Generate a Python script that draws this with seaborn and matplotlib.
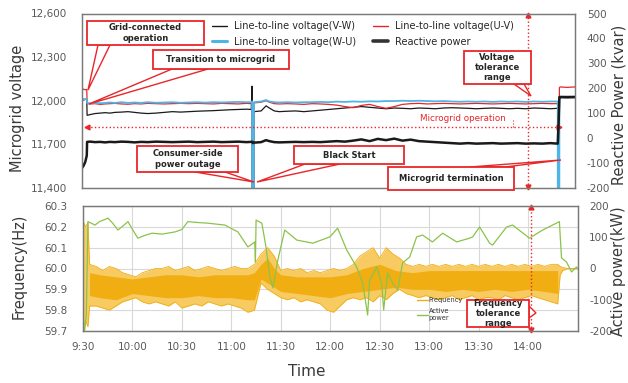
import matplotlib
matplotlib.use("Agg")
import matplotlib.pyplot as plt
import matplotlib.patches as mpatches
from matplotlib.lines import Line2D
from matplotlib.ticker import FuncFormatter
import seaborn as sns
import pandas as pd

sns.set_theme(style="white")
plt.rcParams["font.family"] = ["DejaVu Sans"]
plt.rcParams["axes.unicode_minus"] = False

# ----------------------------------------------------------------------
# Data (time in minutes after 9:30)
# ----------------------------------------------------------------------
t_top = [0, 1, 2, 2.9, 3.1, 5, 8, 11, 14, 17,
         20, 24, 28, 32, 36, 40, 45, 50, 55, 60,
         65, 70, 75, 80, 85, 90, 95, 100, 103, 103.5,
         104, 104.6, 109, 112, 114, 117, 120, 125, 130, 135,
         140, 145, 150, 155, 160, 165, 170, 175, 180, 185,
         190, 195, 200, 205, 210, 215, 220, 225, 230, 235,
         240, 245, 250, 255, 260, 265, 270, 275, 280, 285,
         289.5, 290, 290.5, 291, 295, 300]

volt_vw = [12010, 12005, 12010, 12008, 11900, 11905, 11912, 11915, 11918, 11915,
           11920, 11922, 11925, 11920, 11915, 11912, 11915, 11920, 11925, 11922,
           11925, 11928, 11930, 11932, 11935, 11938, 11940, 11942, 11940, 12100,
           0, 11925, 11930, 11965, 11950, 11930, 11925, 11928, 11930, 11925,
           11930, 11935, 11940, 11945, 11950, 11955, 11960, 11955, 11950, 11945,
           11950, 11948, 11945, 11950, 11948, 11945, 11950, 11952, 11950, 11948,
           11945, 11948, 11950, 11948, 11945, 11948, 11945, 11950, 11948, 11945,
           11948, 0, 12020, 12022, 12020, 12022]

volt_uv = [12075, 12080, 12075, 12078, 11980, 11978, 11980, 11975, 11978, 11980,
           11982, 11978, 11976, 11980, 11978, 11982, 11980, 11978, 11980, 11982,
           11980, 11982, 11980, 11978, 11982, 11980, 11978, 11982, 11980, 11990,
           0, 11985, 11990, 12000, 11990, 11980, 11978, 11980, 11978, 11975,
           11980, 11978, 11975, 11970, 11960, 11952, 11968, 11975, 11960, 11948,
           11960, 11975, 11980, 11982, 11978, 11980, 11982, 11980, 11978, 11980,
           11982, 11980, 11978, 11980, 11982, 11980, 11978, 11980, 11982, 11980,
           11980, 0, 12090, 12095, 12092, 12095]

volt_wu = [12015, 12010, 12012, 12010, 11985, 11982, 11985, 11983, 11985, 11988,
           11985, 11990, 11985, 11988, 11985, 11990, 11986, 11988, 11990, 11986,
           11988, 11990, 11987, 11990, 11988, 11990, 11992, 11990, 11990, 11995,
           0, 11990, 11995, 12005, 11995, 11990, 11988, 11990, 11988, 11990,
           11990, 11992, 11990, 11994, 11992, 11995, 11993, 11996, 11995, 11998,
           11998, 12000, 11998, 12000, 11998, 11996, 11998, 11995, 11993, 11995,
           11993, 11995, 11992, 11995, 11993, 11995, 11992, 11995, 11993, 11995,
           11995, 0, 12025, 12028, 12026, 12028]

reactive = [-120, -110, -95, -70, -15, -14, -16, -15, -17, -15,
            -16, -14, -15, -17, -15, -16, -14, -15, -16, -15,
            -14, -16, -15, -14, -16, -15, -14, -16, -15, -14,
            -20, -18, -16, -8, -12, -16, -17, -16, -15, -16,
            -15, -16, -14, -12, -14, -10, -5, -12, -3, -8,
            -2, -10, -6, -12, -14, -16, -18, -20, -22, -20,
            -22, -21, -20, -22, -21, -20, -22, -21, -22, -20,
            -22, 55, 165, 165, 165, 165]

# frequency band (outer envelope of the noisy trace)
freq_t = [0, 1.5, 3, 4,
          8, 12, 16, 20, 24, 28, 32, 36, 40, 44,
          48, 52, 56, 60, 64, 68, 72, 76, 80, 84,
          88, 92, 96, 100, 104, 108, 112, 116, 120, 124,
          128, 132, 136, 140, 144, 148, 152, 156, 160, 164,
          168, 172, 176, 180, 184, 188, 192, 196, 200, 204,
          208, 212, 216, 220, 224, 228, 232, 236, 240, 244,
          248, 252, 256, 260, 264, 268, 272, 276, 280, 284,
          288, 289.5, 291, 294, 300]
freq_hi = [60.23, 60.20, 60.22, 60.02,
           60.01, 59.99, 60.01, 60.00, 59.98, 59.97, 59.96, 59.98, 59.99, 60.00,
           60.00, 60.01, 59.99, 60.00, 60.01, 59.99, 60.00, 60.01, 60.00, 59.99,
           60.00, 60.01, 60.00, 60.00, 60.02, 60.07, 60.10, 60.06, 59.99, 60.00,
           59.99, 60.00, 59.98, 59.99, 59.98, 59.99, 60.00, 59.99, 60.00, 60.02,
           60.06, 60.08, 60.10, 60.05, 60.10, 60.07, 60.05, 60.02, 60.01, 60.02,
           60.01, 60.02, 60.01, 60.02, 60.01, 60.02, 60.01, 60.02, 60.01, 60.02,
           60.01, 60.02, 60.01, 60.02, 60.01, 60.02, 60.01, 60.02, 60.01, 60.02,
           60.02, 60.01, 60.005, 60.0, 60.0]
freq_lo = [59.70, 59.75, 59.72, 59.82,
           59.82, 59.81, 59.80, 59.82, 59.84, 59.85, 59.86, 59.84, 59.83, 59.84,
           59.83, 59.82, 59.84, 59.81, 59.82, 59.83, 59.82, 59.84, 59.83, 59.82,
           59.83, 59.82, 59.81, 59.79, 59.80, 59.93, 59.90, 59.88, 59.86, 59.85,
           59.86, 59.84, 59.85, 59.84, 59.83, 59.80, 59.79, 59.82, 59.85, 59.86,
           59.85, 59.86, 59.84, 59.87, 59.85, 59.88, 59.90, 59.88, 59.87, 59.86,
           59.87, 59.86, 59.85, 59.86, 59.87, 59.85, 59.86, 59.87, 59.85, 59.86,
           59.86, 59.85, 59.87, 59.86, 59.85, 59.86, 59.87, 59.86, 59.85, 59.84,
           59.83, 59.97, 59.99, 60.0, 60.0]

# dense core of the frequency trace
core_t = [4, 10, 20, 30, 40, 50, 60, 70, 80, 90,
          100, 104, 108, 112, 116, 120, 130, 140, 150, 160,
          170, 180, 190, 200, 210, 220, 230, 240, 250, 260,
          270, 280, 288]
core_hi = [59.98, 59.97, 59.96, 59.95, 59.96, 59.97, 59.97, 59.96, 59.97, 59.97,
           59.97, 59.98, 60.02, 60.05, 60.00, 59.97, 59.96, 59.96, 59.96, 59.97,
           60.00, 60.02, 59.99, 59.98, 59.99, 59.99, 59.99, 59.99, 59.99, 59.99,
           59.99, 59.99, 59.99]
core_lo = [59.87, 59.86, 59.85, 59.88, 59.87, 59.86, 59.86, 59.87, 59.86, 59.86,
           59.85, 59.85, 59.95, 59.93, 59.91, 59.89, 59.88, 59.87, 59.86, 59.88,
           59.89, 59.90, 59.91, 59.90, 59.90, 59.89, 59.90, 59.89, 59.90, 59.89,
           59.90, 59.89, 59.88]

act_t = [0, 1, 2, 3, 7.3, 10, 15.2, 18, 21.2, 24,
         27.3, 30, 33.3, 37, 41.8, 48, 55.8, 60, 63.6, 70,
         75.8, 86, 94, 100, 103, 104.2, 104.6, 105, 108.5, 111,
         113.3, 115.2, 118.2, 122.4, 129.7, 139.4, 149.7, 154.5, 160, 166,
         169.7, 172.7, 173.9, 178.2, 181.2, 182.4, 184.8, 187.9, 190.9, 193.9,
         198.2, 202.4, 206, 212, 218.2, 226.7, 234.5, 236.4, 240.6, 246.7,
         248.5, 257, 260.6, 270.9, 278.8, 289, 290.3, 293.3, 296.4, 299.4, 300]
act_p = [-180, -200, -150, 150, 139, 150, 161, 145, 123, 135,
         150, 125, 97, 105, 113, 110, 117, 125, 150, 147,
         145, 139, 117, 69, 80, 85, 21, 155, 145, 69,
         -27, -62, 27, 123, 91, 81, 101, 129, 59, 5,
         -47, -149, -37, 5, -47, -133, -14, -47, -69, 18,
         37, 101, 107, 85, 113, 85, 97, 101, 133, 81,
         75, 133, 139, 97, 123, 150, 34, 21, -11, 5, 0]

time_ticks = [0, 30, 60, 90, 120, 150, 180, 210, 240, 270]
time_labels = ["9:30", "10:00", "10:30", "11:00", "11:30",
               "12:00", "12:30", "13:00", "13:30", "14:00"]

# event times (minutes after 9:30)
T_TRANSITION = 3
T_TERMINATION = 290
T_TOLERANCE = 271.5

# ----------------------------------------------------------------------
# Styling
# ----------------------------------------------------------------------
RED = "#E8262A"
BLUE = "#4DB6E6"
ORANGE = "#F0AE12"
ORANGE_LIGHT = "#F7CB62"
GREEN = "#8BC34A"
TICK_C = "#595959"
LABEL_C = "#3a3a3a"
SPINE_C = "#7a7a7a"

W, H = 628, 383


def px(x, y):
    return (x / W, 1 - y / H)


fig = plt.figure(figsize=(W / 100, H / 100), dpi=100)
ax_v = fig.add_axes([82 / W, 1 - 188 / H, 493 / W, 174.5 / H])
ax_q = ax_v.twinx()
ax_f = fig.add_axes([83 / W, 1 - 331 / H, 494.5 / W, 125 / H])
ax_p = ax_f.twinx()

top = pd.DataFrame({"t": t_top, "vw": volt_vw, "uv": volt_uv,
                    "wu": volt_wu, "q": reactive})
sns.lineplot(data=top, x="t", y="vw", ax=ax_v, color="#1a1a1a", lw=0.9,
             estimator=None, sort=False)
sns.lineplot(data=top, x="t", y="uv", ax=ax_v, color=RED, lw=0.9,
             estimator=None, sort=False)
sns.lineplot(data=top, x="t", y="wu", ax=ax_v, color=BLUE, lw=1.3,
             estimator=None, sort=False)
sns.lineplot(data=top, x="t", y="q", ax=ax_q, color="#1a1a1a", lw=1.8,
             estimator=None, sort=False)

# frequency band + active power
ax_f.fill_between(freq_t, freq_lo, freq_hi, color=ORANGE_LIGHT, lw=0)
ax_f.fill_between(core_t, core_lo, core_hi, color=ORANGE, lw=0)
sns.lineplot(x=freq_t, y=freq_hi, ax=ax_f, color=ORANGE, lw=0.6,
             estimator=None, sort=False)
sns.lineplot(x=freq_t, y=freq_lo, ax=ax_f, color=ORANGE, lw=0.6,
             estimator=None, sort=False)
sns.lineplot(x=act_t, y=act_p, ax=ax_p, color=GREEN, lw=0.9,
             estimator=None, sort=False)

# axes limits / ticks
for a in (ax_v, ax_q, ax_f, ax_p):
    a.set_xlim(0, 300)
    a.set_xlabel("")
    a.set_ylabel("")
    for s in a.spines.values():
        s.set_color(SPINE_C)
        s.set_linewidth(0.9)

ax_v.set_ylim(11400, 12600)
ax_v.set_yticks([11400, 11700, 12000, 12300, 12600])
ax_v.yaxis.set_major_formatter(FuncFormatter(lambda v, _: f"{v:,.0f}"))
ax_q.set_ylim(-200, 500)
ax_q.set_yticks(range(-200, 501, 100))
ax_q.yaxis.set_major_formatter(FuncFormatter(lambda v, _: f"{int(v)}"))
ax_v.set_xticks([])

ax_f.set_ylim(59.7, 60.3)
ax_f.set_yticks([59.7, 59.8, 59.9, 60.0, 60.1, 60.2, 60.3])
ax_f.yaxis.set_major_formatter(FuncFormatter(lambda v, _: f"{v:.1f}"))
ax_p.set_ylim(-200, 200)
ax_p.set_yticks([-200, -100, 0, 100, 200])
ax_p.yaxis.set_major_formatter(FuncFormatter(lambda v, _: f"{int(v)}"))
ax_f.set_xticks(time_ticks)
ax_f.set_xticklabels(time_labels)
ax_f.grid(True, color="#d9d9d9", lw=0.8)
ax_f.set_axisbelow(True)

for a in (ax_v, ax_f):
    a.tick_params(axis="y", length=0, labelsize=7.5, labelcolor=TICK_C, pad=11)
for a in (ax_q, ax_p):
    a.tick_params(axis="y", length=0, labelsize=7.5, labelcolor=TICK_C, pad=8.5)
ax_f.tick_params(axis="x", length=0, labelsize=7.5, labelcolor=TICK_C, pad=8)

# axis titles
fig.text(*px(18, 108), "Microgrid voltage", rotation=90, ha="center",
         va="center", fontsize=10.5, color=LABEL_C)
fig.text(*px(619, 105), "Reactive Power (kvar)", rotation=90, ha="center",
         va="center", fontsize=10.5, color=LABEL_C)
fig.text(*px(19, 266), "Frequency(Hz)", rotation=90, ha="center",
         va="center", fontsize=10.5, color=LABEL_C)
fig.text(*px(619, 271), "Active power(kW)", rotation=90, ha="center",
         va="center", fontsize=10.5, color=LABEL_C)
fig.text(*px(307, 372), "Time", ha="center", va="center", fontsize=11,
         color=LABEL_C)

# legends
top_handles = [Line2D([], [], color="#1a1a1a", lw=1.0),
               Line2D([], [], color=BLUE, lw=2.2),
               Line2D([], [], color=RED, lw=1.0),
               Line2D([], [], color="#333333", lw=2.6)]
top_labels = ["Line-to-line voltage(V-W)", "Line-to-line voltage(W-U)",
              "Line-to-line voltage(U-V)", "Reactive power"]
fig.legend(top_handles, top_labels, loc="upper left", bbox_to_anchor=px(212, 21),
           ncol=2, frameon=False, fontsize=7, borderpad=0, borderaxespad=0,
           handlelength=1.55, handletextpad=0.72, columnspacing=1.75,
           labelspacing=0.6, labelcolor="#262626")

bot_handles = [Line2D([], [], color=ORANGE, lw=1.0),
               Line2D([], [], color=GREEN, lw=1.0)]
fig.legend(bot_handles, ["Frequency", "Active\npower"], loc="upper left",
           bbox_to_anchor=px(417, 297), frameon=False, fontsize=4.8,
           borderpad=0, borderaxespad=0, handlelength=1.6, handletextpad=0.15,
           labelspacing=0.8, labelcolor="#333333")

# red dotted arrows
ax_v.plot([T_TRANSITION, T_TERMINATION], [11820, 11820], ls=":", color=RED, lw=1)
ax_v.plot([T_TRANSITION], [11820], marker="<", color=RED, ms=3.5)
ax_v.plot([T_TERMINATION], [11820], marker=">", color=RED, ms=3.5)
ax_v.text(232, 11875, "Microgrid operation", color=RED, fontsize=6.3,
          ha="center", va="center")
ax_v.plot([262, 262], [11820, 11875], ls=":", color=RED, lw=0.8)

ax_v.plot([T_TOLERANCE, T_TOLERANCE], [11400, 12600], ls=":", color=RED,
          lw=1, clip_on=False)
ax_v.plot([T_TOLERANCE], [12590], marker="^", color=RED, ms=3.5, clip_on=False)
ax_v.plot([T_TOLERANCE], [11410], marker="v", color=RED, ms=3.5, clip_on=False)
ax_f.plot([T_TOLERANCE + 0.5] * 2, [59.7, 60.3], ls=":", color=RED, lw=1,
          clip_on=False)
ax_f.plot([T_TOLERANCE + 0.5], [60.295], marker="^", color=RED, ms=3.5,
          clip_on=False)
ax_f.plot([T_TOLERANCE + 0.5], [59.705], marker="v", color=RED, ms=3.5,
          clip_on=False)


# callout boxes
def callout(box, text, base, tip, fs=6):
    x0, y0, x1, y1 = box
    wedge = mpatches.Polygon([px(*base[0]), px(*tip), px(*base[1])],
                             closed=True, transform=fig.transFigure,
                             fc="white", ec=RED, lw=1.0, zorder=5)
    fig.add_artist(wedge)
    rect = mpatches.Rectangle(px(x0, y1), (x1 - x0) / W, (y1 - y0) / H,
                              transform=fig.transFigure, fc="white", ec=RED,
                              lw=1.3, zorder=6)
    fig.add_artist(rect)
    fig.text(*px((x0 + x1) / 2, (y0 + y1) / 2), text, ha="center",
             va="center", fontsize=fs, fontweight="bold", color="#262626",
             linespacing=1.15, zorder=7)


callout((87, 21, 204, 45), "Grid-connected\noperation",
        [(98, 45), (110, 45)], (88, 90))
callout((153, 50, 289, 69), "Transition to microgrid",
        [(172, 69), (208, 69)], (89, 104))
callout((137, 146, 238, 172), "Consumer-side\npower outage",
        [(195, 172), (225, 172)], (254, 182))
callout((294, 146, 404, 164), "Black Start",
        [(305, 164), (340, 164)], (257, 182))
callout((388, 167, 514, 190), "Microgrid termination",
        [(470, 167), (505, 167)], (561, 160))
callout((464, 51, 531, 84), "Voltage\ntolerance\nrange",
        [(514, 84), (524, 84)], (531, 96))
callout((467, 300, 529, 327), "Frequency\ntolerance\nrange",
        [(529, 306), (529, 318)], (536, 313))

fig.savefig("out.png", dpi=100)
